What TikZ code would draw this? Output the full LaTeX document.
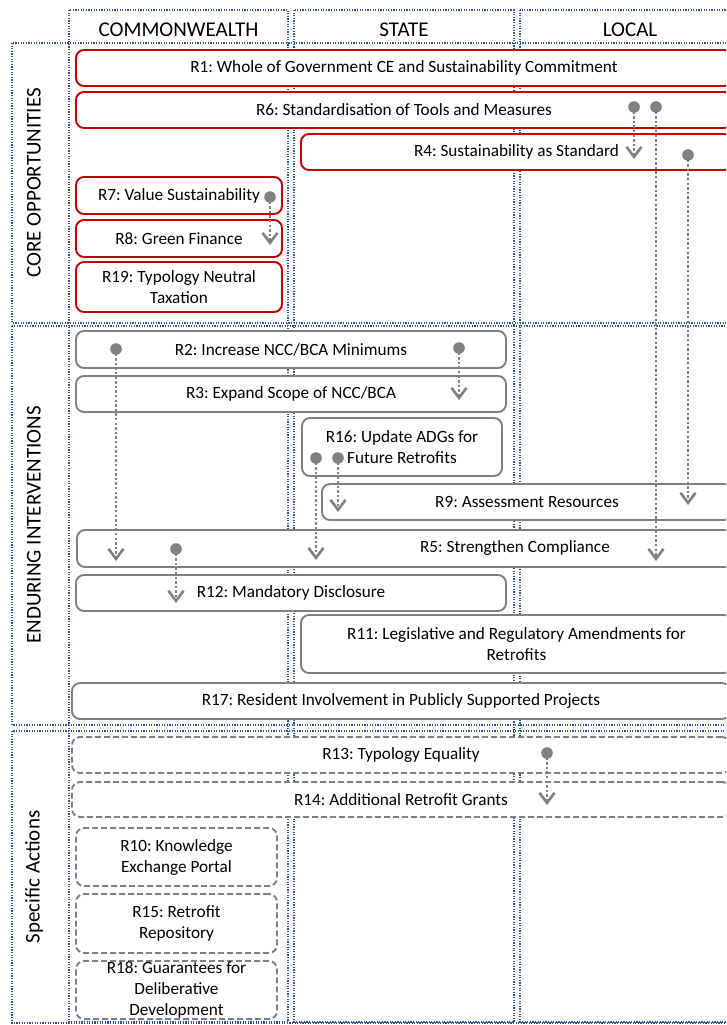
\documentclass[tikz,border=0pt]{standalone}
\usepackage{fontspec}
\setmainfont{Carlito}
\usetikzlibrary{arrows.meta}
\frenchspacing
\definecolor{coreRed}{RGB}{192,0,0}
\definecolor{boxGray}{RGB}{128,128,128}
\definecolor{gridBlue}{RGB}{47,85,151}
\definecolor{linkGray}{RGB}{128,128,128}
\tikzset{
  grid/.style={draw=gridBlue, line width=1.3pt, dash pattern=on 1.2pt off 1.4pt},
  basebox/.style={rectangle, rounded corners=8pt, fill=white, line width=1.9pt,
    inner sep=0pt, align=center, font=\fontsize{17.2}{21}\selectfont},
  corebox/.style={basebox, draw=coreRed},
  endbox/.style={basebox, draw=boxGray},
  actbox/.style={basebox, draw=boxGray, dash pattern=on 6pt off 3pt},
  header/.style={font=\fontsize{21}{25}\selectfont, inner sep=0pt},
  rowlabel/.style={font=\fontsize{21}{25}\selectfont, rotate=90, inner sep=0pt},
  link/.style={draw=linkGray, line width=2.8pt, dash pattern=on 2.4pt off 2.2pt,
    -{Straight Barb[length=10pt, width=15pt, line width=2.6pt]}},
  dot/.style={fill=linkGray}
}
\begin{document}
\begin{tikzpicture}[x=1pt, y=-1pt]
\useasboundingbox (0,0) rectangle (726,1025);
\clip (0,0) rectangle (726,1025);

% column frames
\draw[grid] (69,10) rectangle (288,1022);
\draw[grid] (294,10) rectangle (514,1022);
\draw[grid] (520,10) rectangle (760,1022);
% row frames
\draw[grid] (12,43) rectangle (760,323);
\draw[grid] (12,326) rectangle (760,725);
\draw[grid] (12,731) rectangle (760,1023);

% headers
\node[header] (hC) at (178.5,30) {COMMONWEALTH};
\node[header] (hS) at (404,30) {STATE};
\node[header] (hL) at (630,30) {LOCAL};
\node[rowlabel] (lCore) at (34,183) {CORE OPPORTUNITIES};
\node[rowlabel] (lEnd) at (34,525) {ENDURING INTERVENTIONS};
\node[rowlabel] (lAct) at (34,877) {Specific Actions};

% core opportunities
\node[corebox, minimum width=656pt, minimum height=36pt] (R1) at (404,68) {R1: Whole of Government CE and Sustainability Commitment};
\node[corebox, minimum width=656pt, minimum height=36pt] (R6) at (404,110) {R6: Standardisation of Tools and Measures};
\node[corebox, minimum width=431pt, minimum height=36pt] (R4) at (516.5,152) {R4: Sustainability as Standard};
\node[corebox, minimum width=206pt, minimum height=37pt] (R7) at (179,195.5) {R7: Value Sustainability};
\node[corebox, minimum width=206pt, minimum height=37pt] (R8) at (179,238.5) {R8: Green Finance};
\node[corebox, minimum width=206pt, minimum height=50pt] (R19) at (179,287) {R19: Typology Neutral\\Taxation};

% enduring interventions
\node[endbox, minimum width=430pt, minimum height=37pt] (R2) at (291,349.5) {R2: Increase NCC/BCA Minimums};
\node[endbox, minimum width=430pt, minimum height=36pt] (R3) at (291,394) {R3: Expand Scope of NCC/BCA};
\node[endbox, minimum width=200pt, minimum height=58pt] (R16) at (402,447) {R16: Update ADGs for\\Future Retrofits};
\node[endbox, minimum width=410pt, minimum height=36pt] (R9) at (527,502) {R9: Assessment Resources};
\node[endbox, minimum width=876pt, minimum height=37pt] (R5) at (515,548.5) {R5: Strengthen Compliance};
\node[endbox, minimum width=430pt, minimum height=36pt] (R12) at (291,593) {R12: Mandatory Disclosure};
\node[endbox, minimum width=431pt, minimum height=58pt] (R11) at (516.5,644) {R11: Legislative and Regulatory Amendments for\\Retrofits};
\node[endbox, minimum width=658pt, minimum height=36pt] (R17) at (401,701) {R17: Resident Involvement in Publicly Supported Projects};

% specific actions
\node[actbox, minimum width=658pt, minimum height=36pt] (R13) at (401,755) {R13: Typology Equality};
\node[actbox, minimum width=658pt, minimum height=35pt] (R14) at (401,799.5) {R14: Additional Retrofit Grants};
\node[actbox, minimum width=201pt, minimum height=58pt] (R10) at (176.5,857) {R10: Knowledge\\Exchange Portal};
\node[actbox, minimum width=201pt, minimum height=59pt] (R15) at (176.5,923.5) {R15: Retrofit\\Repository};
\node[actbox, minimum width=201pt, minimum height=58pt] (R18) at (176.5,990) {R18: Guarantees for\\Deliberative\\Development};

% link end points
\coordinate (s1) at (634,107);  \coordinate (e1) at (634,159);
\coordinate (s2) at (656,107);  \coordinate (e2) at (656,561);
\coordinate (s3) at (688,155);  \coordinate (e3) at (688,505);
\coordinate (s4) at (270,197);  \coordinate (e4) at (270,245);
\coordinate (s5) at (116,349);  \coordinate (e5) at (116,561);
\coordinate (s6) at (459,348);  \coordinate (e6) at (459,400);
\coordinate (s7) at (316,458);  \coordinate (e7) at (316,560);
\coordinate (s8) at (338,458);  \coordinate (e8) at (338,512);
\coordinate (s9) at (176,549);  \coordinate (e9) at (176,603);
\coordinate (s10) at (547,753); \coordinate (e10) at (547,805);

% dependency links
\foreach \i in {1,...,10} {
  \draw[link] (s\i) -- (e\i);
  \fill[dot] (s\i) circle (5.8pt);
}
\end{tikzpicture}
\end{document}
